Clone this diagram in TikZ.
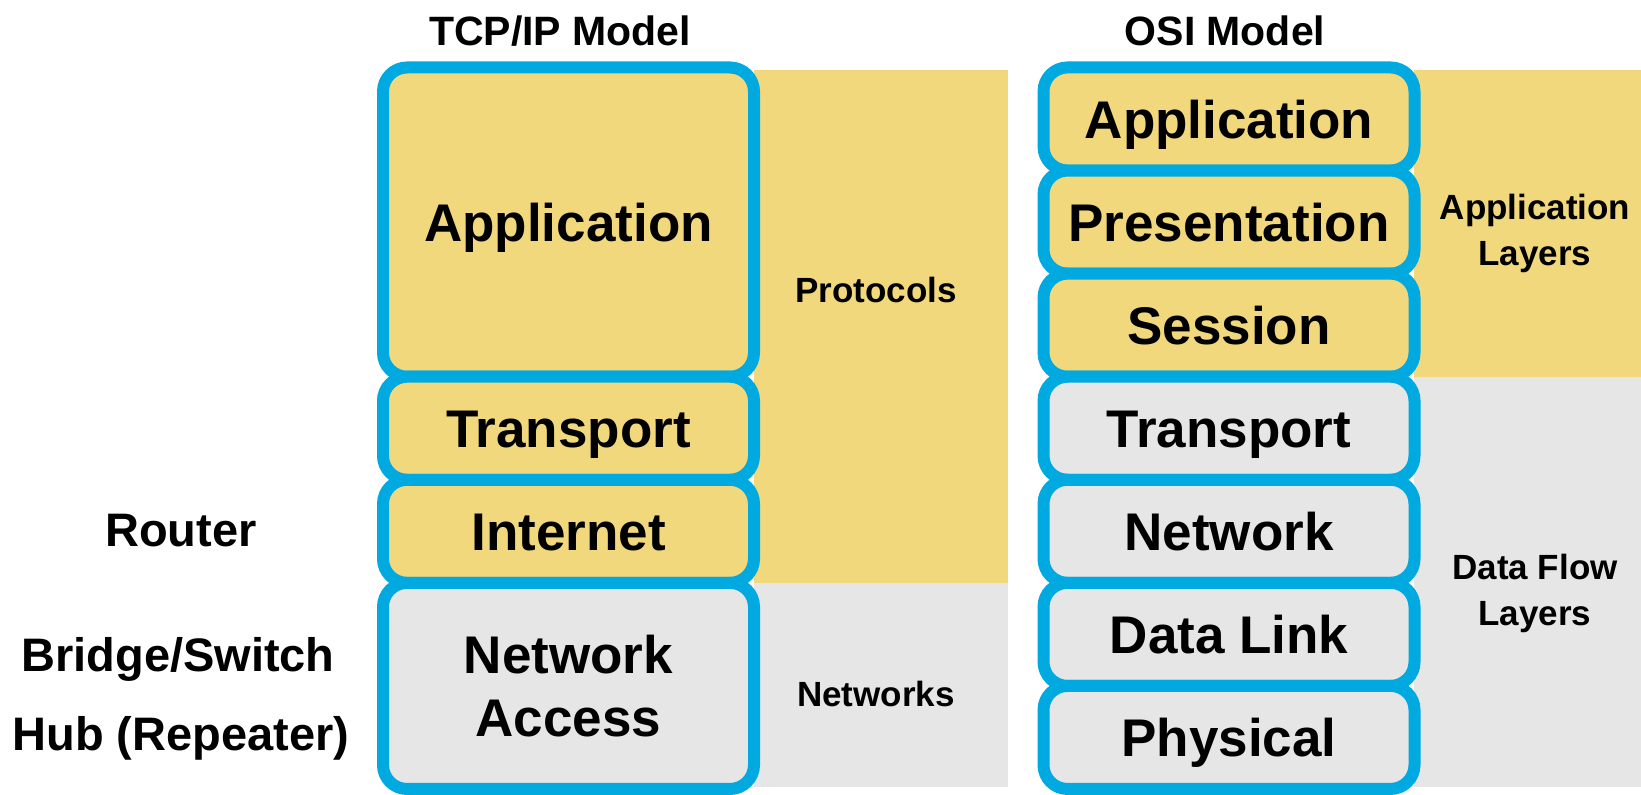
\documentclass[tikz,border=0pt]{standalone}
\usepackage{fontspec}
\setmainfont{Liberation Sans}
\usetikzlibrary{positioning,chains}
\definecolor{layerblue}{HTML}{00A9E0}
\definecolor{bandyellow}{HTML}{F2D87D}
\definecolor{bandgray}{HTML}{E6E6E6}
\tikzstyle{layer}=[draw=layerblue,line width=12pt,rounded corners=24pt,minimum width=371pt,minimum height=103.07pt,outer sep=0pt,inner sep=0pt,align=center,text height=38pt,text depth=0pt,font=\fontsize{53}{63}\selectfont\bfseries]

\begin{document}
\begin{tikzpicture}[x=1pt,y=-1pt,
      % define styles
      up/.style={layer,fill=bandyellow},
      low/.style={layer,fill=bandgray},
      title/.style={font=\fontsize{41}{48}\selectfont\bfseries},
      side/.style={font=\fontsize{35}{46}\selectfont\bfseries,align=center},
      device/.style={font=\fontsize{47}{56}\selectfont\bfseries}
  ]
  \useasboundingbox (0,0) rectangle (1641,795);
  % Background bands behind the labels
  \fill[bandyellow] (754,70) rectangle (1008,583);
  \fill[bandgray] (754,583) rectangle (1008,787);
  \fill[bandyellow] (1414,70) rectangle (1641,377);
  \fill[bandgray] (1414,377) rectangle (1641,787);
  % TCP/IP stack
  \begin{scope}[start chain=tcp going below,node distance=0pt]
      \node[on chain=tcp,up,minimum height=309.21pt] at (568.5,222.1) (tapp) {Application};
      \node[on chain=tcp,up] (ttra) {Transport};
      \node[on chain=tcp,up] (tint) {Internet};
      \node[on chain=tcp,low,minimum height=206.14pt,text height=101pt] (tnet) {Network\\Access};
  \end{scope}
  % OSI stack
  \begin{scope}[start chain=osi going below,node distance=0pt]
      \node[on chain=osi,up] at (1229,119) (oapp) {Application};
      \node[on chain=osi,up] (opre) {Presentation};
      \node[on chain=osi,up] (oses) {Session};
      \node[on chain=osi,low] (otra) {Transport};
      \node[on chain=osi,low] (onet) {Network};
      \node[on chain=osi,low] (odat) {Data Link};
      \node[on chain=osi,low] (ophy) {Physical};
  \end{scope}
  % Titles
  \node[title] at (560,31) (ttcp) {TCP/IP Model};
  \node[title] at (1225,31) (tosi) {OSI Model};
  % Band labels
  \node[side] at (876,290) (proto) {Protocols};
  \node[side] at (876,694) (nets) {Networks};
  \node[side] at (1535,233) (applay) {Application\\Layers};
  \node[side] at (1535,593) (flowlay) {Data Flow\\Layers};
  % Devices on the left
  \node[device] at (181,531) (router) {Router};
  \node[device] at (178,659) (switch) {Bridge/Switch};
  \node[device] at (181,738) (hub) {Hub (Repeater)};
\end{tikzpicture}
\end{document}
